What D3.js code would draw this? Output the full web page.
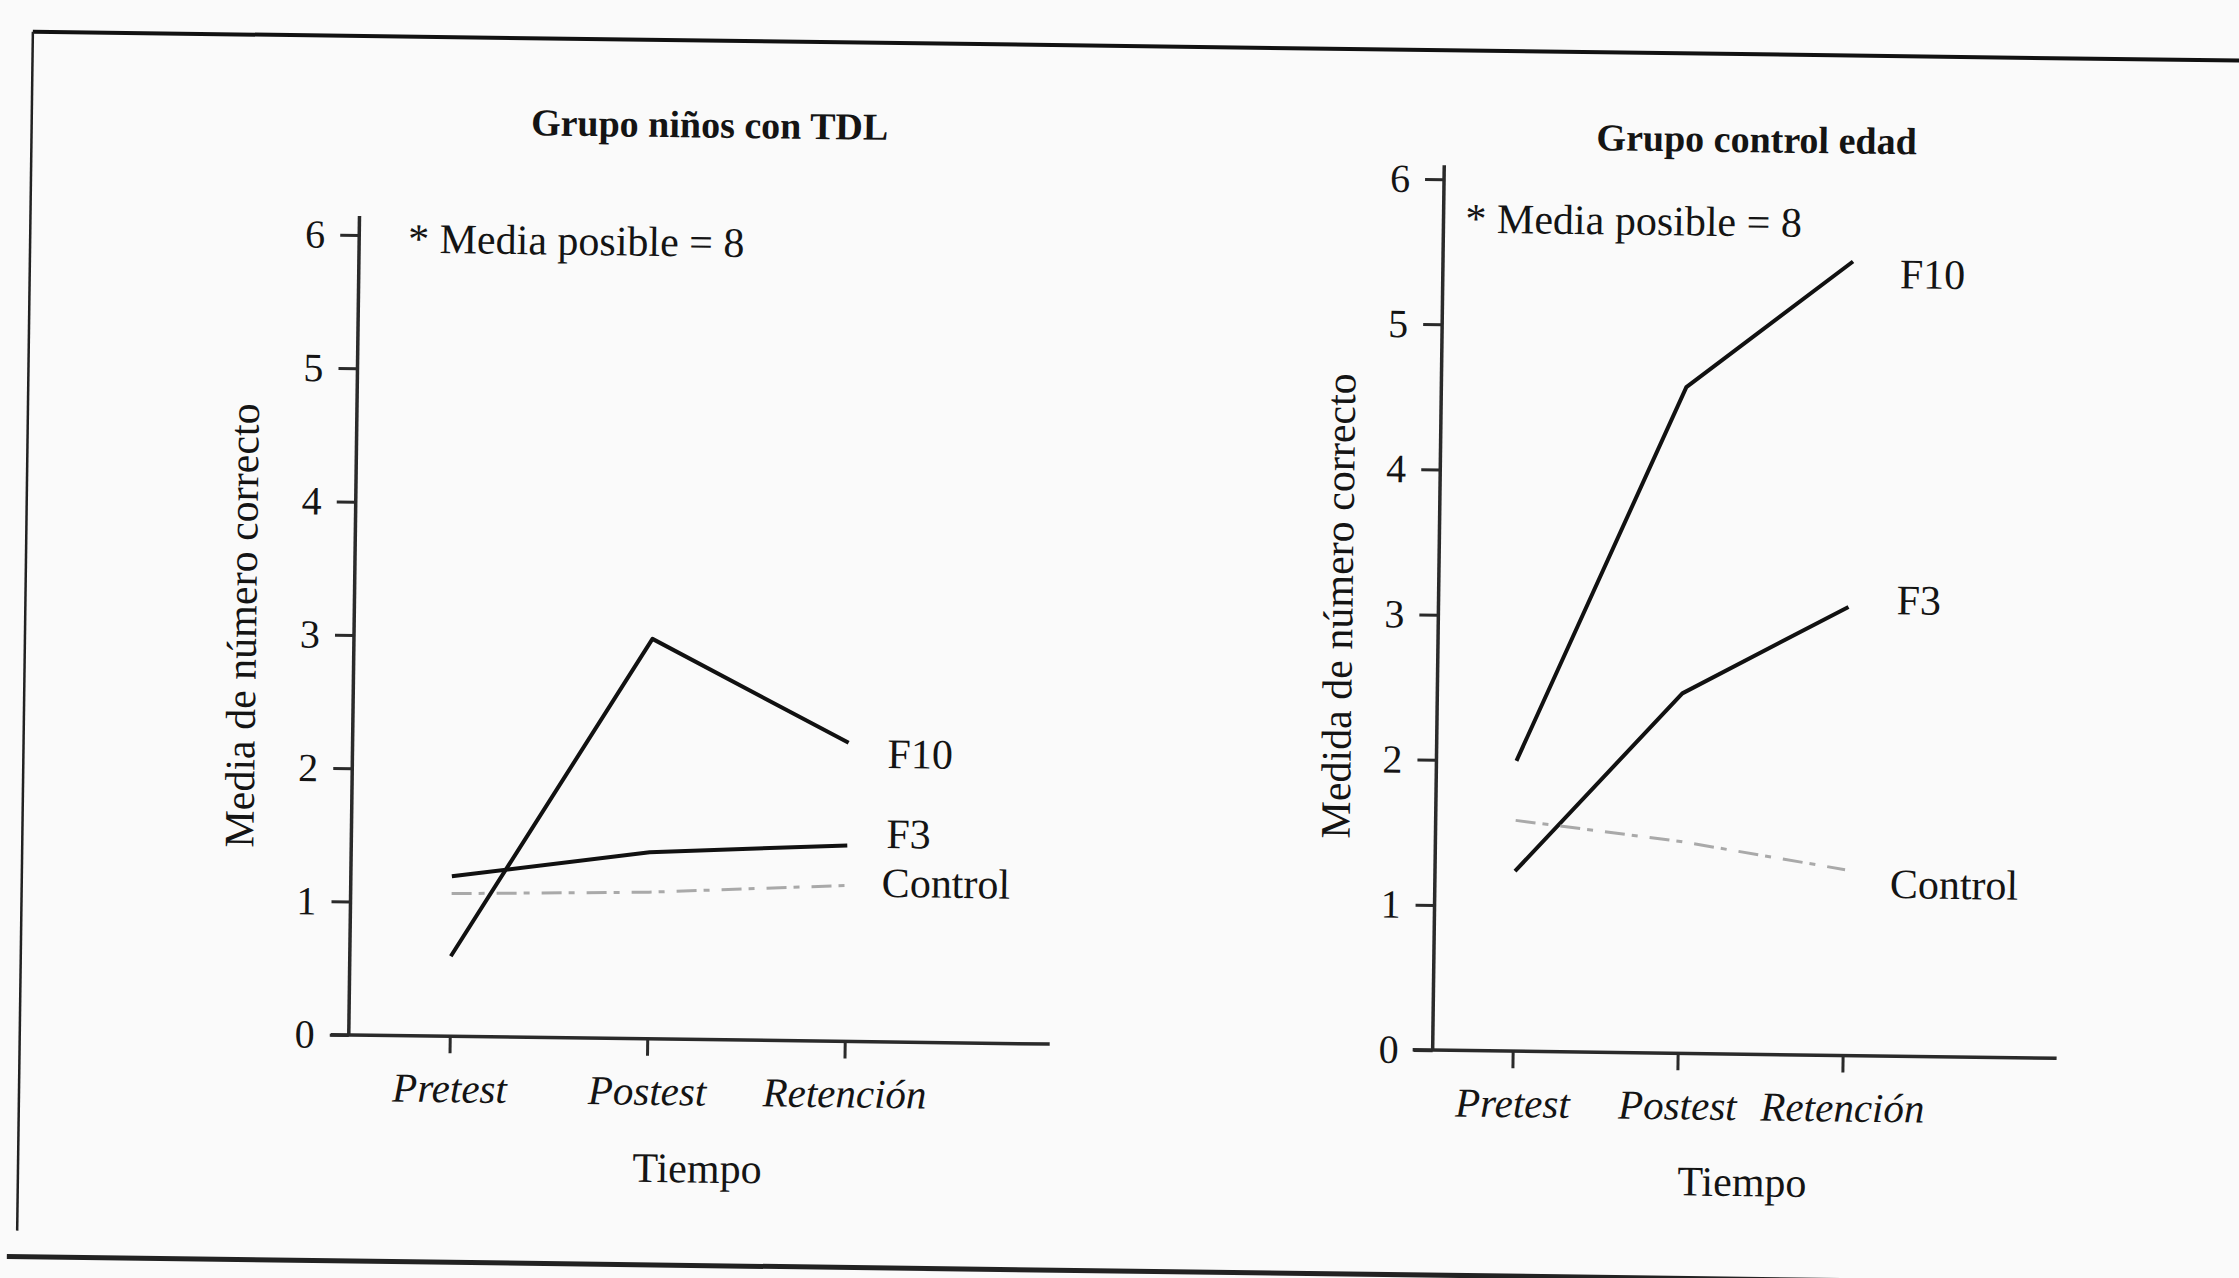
<!DOCTYPE html>
<html><head><meta charset="utf-8">
<script src="https://cdn.jsdelivr.net/npm/d3@7"></script>
<style>
body{margin:0;background:#fafafa}
svg{display:block}
text{font-family:"Liberation Serif","Times New Roman",serif;fill:#141414}
</style>
</head><body>
<svg id="c" width="2239" height="1278"></svg>
<script>
// ---- data ----
const timepoints = ["Pretest", "Postest", "Retención"];
const yTicks = [0, 1, 2, 3, 4, 5, 6];
const seriesNames = ["F10", "F3", "Control"];
// Grupo niños con TDL
const tdlF10 = [0.6, 3.0, 2.24];
const tdlF3 = [1.2, 1.4, 1.47];
const tdlControl = [1.07, 1.1, 1.17];
// Grupo control edad
const edadF10 = [2.0, 4.59, 5.47];
const edadF3 = [1.24, 2.48, 3.09];
const edadControl = [1.59, 1.46, 1.28];
const titles = ["Grupo niños con TDL", "Grupo control edad"];
const yTitles = ["Media de número correcto", "Medida de número correcto"];
const xTitle = "Tiempo";
const note = "* Media posible = 8";

// ---- layout ----
const panels = [
  {title: titles[0], yTitle: yTitles[0], series: [tdlF10, tdlF3, tdlControl],
   axisX: 354, y0: 1045, y6: 245, xStart: 336, xEnd: 1055, yTop: 226, cat: [455, 850],
   titlePos: [703, 143], notePos: [403, 262], yTitlePos: [242, 637], xTitlePos: [704, 1188],
   labelPos: [[889, 771], [889, 851], [885, 900]]},
  {title: titles[1], yTitle: yTitles[1], series: [edadF10, edadF3, edadControl],
   axisX: 1438, y0: 1046, y6: 175, xStart: 1418, xEnd: 2062, yTop: 161, cat: [1518, 1848],
   titlePos: [1750, 144], notePos: [1460, 228], yTitlePos: [1338, 603], xTitlePos: [1749, 1188],
   labelPos: [[1895, 278], [1896, 604], [1893, 888]]}
];

const svg = d3.select("#c");
svg.append("rect").attr("width", 2239).attr("height", 1278).attr("fill", "#fafafa");
const root = svg.append("g").attr("transform", "rotate(0.75,1120,640)");

// page frame from the scan
root.append("line").attr("x1", 25).attr("y1", 46).attr("x2", 2320).attr("y2", 46)
  .attr("stroke", "#111").attr("stroke-width", 4);
root.append("line").attr("x1", 25).attr("y1", 46).attr("x2", 25).attr("y2", 1245)
  .attr("stroke", "#222").attr("stroke-width", 2.5);
root.append("line").attr("x1", 15).attr("y1", 1271).attr("x2", 2320).attr("y2", 1271)
  .attr("stroke", "#222").attr("stroke-width", 5);

const axisColor = "#2a2a2a";

panels.forEach(p => {
  const g = root.append("g");
  const y = d3.scaleLinear().domain([0, 6]).range([p.y0, p.y6]);
  const x = d3.scalePoint().domain(timepoints).range(p.cat);

  // axis lines
  g.append("line").attr("x1", p.axisX).attr("x2", p.axisX).attr("y1", p.yTop).attr("y2", p.y0)
    .attr("stroke", axisColor).attr("stroke-width", 3.5);
  g.append("line").attr("x1", p.xStart).attr("x2", p.xEnd).attr("y1", p.y0).attr("y2", p.y0)
    .attr("stroke", axisColor).attr("stroke-width", 3.5);

  // y axis ticks
  const ya = g.append("g").attr("transform", `translate(${p.axisX},0)`)
    .call(d3.axisLeft(y).tickValues(yTicks).tickFormat(d3.format("d")).tickSize(19).tickPadding(15));
  ya.select(".domain").remove();
  ya.selectAll(".tick line").attr("stroke", axisColor).attr("stroke-width", 3);
  ya.selectAll(".tick text").attr("font-size", 40).attr("font-family", "Liberation Serif").attr("fill", "#222");

  // x axis ticks
  const xa = g.append("g").attr("transform", `translate(0,${p.y0})`)
    .call(d3.axisBottom(x).tickSize(17).tickPadding(49));
  xa.select(".domain").remove();
  xa.selectAll(".tick line").attr("stroke", axisColor).attr("stroke-width", 3);
  xa.selectAll(".tick text").attr("font-size", 41).attr("font-style", "italic")
    .attr("font-family", "Liberation Serif").attr("fill", "#222").attr("dy", "0");

  // titles
  g.append("text").attr("x", p.titlePos[0]).attr("y", p.titlePos[1]).attr("text-anchor", "middle")
    .attr("font-size", 38).attr("font-weight", "bold").text(p.title);
  g.append("text").attr("x", p.notePos[0]).attr("y", p.notePos[1])
    .attr("font-size", 42).text(note);
  g.append("text").attr("transform", `translate(${p.yTitlePos[0]},${p.yTitlePos[1]}) rotate(-90)`)
    .attr("text-anchor", "middle").attr("dominant-baseline", "central")
    .attr("font-size", 42).text(p.yTitle);
  g.append("text").attr("x", p.xTitlePos[0]).attr("y", p.xTitlePos[1]).attr("text-anchor", "middle")
    .attr("font-size", 42).text(xTitle);

  // lines
  const line = d3.line().x((d, i) => x(timepoints[i])).y(d => y(d));
  p.series.forEach((vals, si) => {
    const isControl = seriesNames[si] === "Control";
    g.append("path").datum(vals).attr("d", line).attr("fill", "none")
      .attr("stroke", isControl ? "#a9a9a9" : "#111")
      .attr("stroke-width", isControl ? 3 : 4)
      .attr("stroke-linejoin", "round")
      .attr("stroke-dasharray", isControl ? "20 7 6 12" : null);
    g.append("text").attr("x", p.labelPos[si][0]).attr("y", p.labelPos[si][1])
      .attr("font-size", 42).text(seriesNames[si]);
  });
});
</script>
</body></html>
